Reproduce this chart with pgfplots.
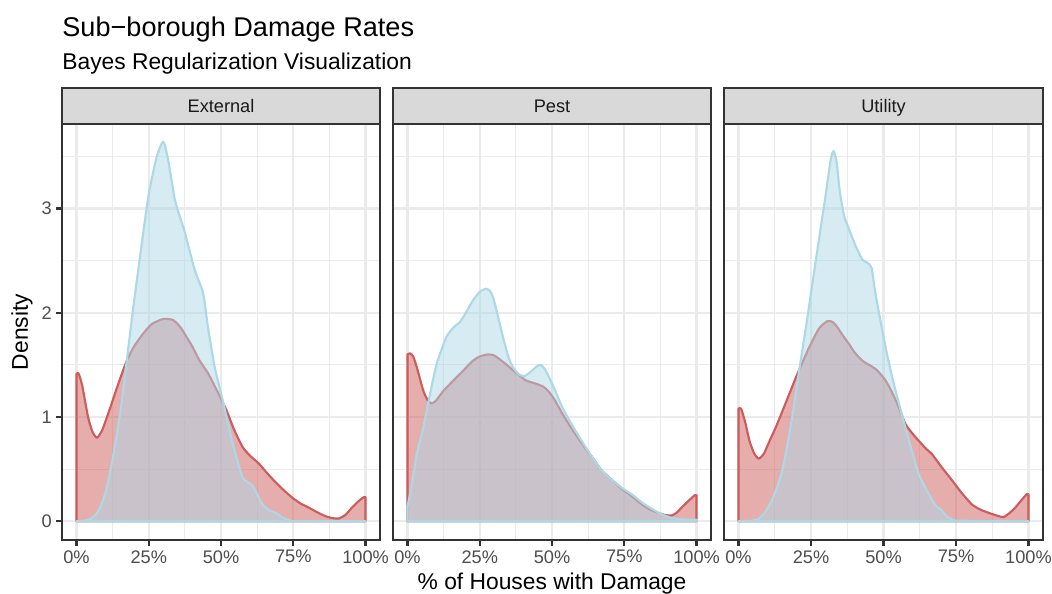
\documentclass[border=0pt]{standalone}
\usepackage{pgfplots}
\pgfplotsset{compat=1.18}
\usepackage{fontspec}
\setmainfont{Liberation Sans}
\definecolor{rawred}{RGB}{205,92,92}
\definecolor{bayesblue}{RGB}{173,216,230}
\definecolor{gridgray}{RGB}{235,235,235}
\definecolor{gray20}{RGB}{51,51,51}
\definecolor{gray30}{RGB}{77,77,77}
\definecolor{gray10}{RGB}{26,26,26}
\definecolor{stripgray}{RGB}{217,217,217}

\pgfplotstableread{
x y
0 1.41
0.7 1.42
2 1.30
4 1.00
5.5 0.86
7.1 0.80
9 0.88
11.7 1.09
14.5 1.32
17.4 1.54
20 1.68
23.1 1.80
26 1.89
30 1.94
33.4 1.93
36 1.86
38 1.77
40 1.68
42.6 1.54
45.5 1.42
48.3 1.27
51.8 1.07
54.5 0.88
57.5 0.71
60 0.63
63.2 0.55
66 0.46
69 0.37
72 0.29
74.7 0.225
77.5 0.17
80.4 0.13
83 0.09
86 0.05
88.5 0.03
90.7 0.026
93 0.06
95.3 0.13
97.5 0.19
99.3 0.23
100 0.23
}\extraw

\pgfplotstableread{
x y
0 0
3 0.005
4.8 0.02
6.5 0.06
8.2 0.13
10.5 0.32
12.8 0.64
15.1 1.03
17.4 1.54
19.7 2.06
22 2.54
24.9 3.12
27.7 3.49
30 3.64
31.7 3.47
34 3.09
36 2.90
37.5 2.77
40.9 2.41
43.8 2.19
45.5 1.86
47.8 1.48
50.6 1.16
54.1 0.74
57.5 0.42
60.9 0.34
64.4 0.16
67 0.10
69 0.08
71 0.04
73.5 0.01
76 0
100 0
}\extbayes

\pgfplotstableread{
x y
0 1.60
0.9 1.61
2 1.58
3.2 1.48
5.5 1.25
7 1.16
8.4 1.13
10 1.16
12.4 1.25
17 1.38
22.7 1.54
25 1.58
27.8 1.60
30 1.59
33 1.53
36 1.46
38.7 1.40
41 1.35
44.4 1.32
47 1.29
49 1.24
51 1.16
53.6 1.03
57 0.88
60.5 0.74
64 0.61
67.4 0.48
71 0.39
74.2 0.31
78 0.23
81.1 0.16
84 0.11
86.8 0.08
89 0.06
91.4 0.055
93 0.08
94.8 0.13
97 0.19
99.4 0.25
100 0.25
}\pestraw

\pgfplotstableread{
x y
0 0.14
1.5 0.35
3.2 0.64
5.5 0.90
7.8 1.22
10.1 1.51
13.5 1.77
16 1.86
18.1 1.91
20 1.99
22.7 2.12
25 2.20
27.1 2.23
28.5 2.21
29.6 2.15
31 2.00
33 1.77
35 1.57
36.4 1.48
38.5 1.41
40.4 1.39
42 1.42
43.3 1.45
45 1.49
46.2 1.50
47.5 1.46
49 1.38
51 1.26
53.6 1.09
57 0.92
60.5 0.76
64 0.61
67.4 0.48
71 0.39
74.2 0.32
78 0.25
81.1 0.18
84.5 0.12
88 0.065
91 0.035
93.7 0.02
97 0.015
100 0.015
}\pestbayes

\pgfplotstableread{
x y
0 1.08
0.9 1.08
2.3 0.95
3.8 0.77
5.4 0.65
7 0.60
8.8 0.65
10.7 0.77
13 0.91
15.2 1.06
17.5 1.22
19.8 1.38
22 1.52
24.4 1.67
27.8 1.85
30.7 1.92
32.5 1.91
34.1 1.86
36 1.78
38.1 1.70
40 1.62
42.7 1.54
45 1.50
47.3 1.46
49 1.41
50.7 1.35
52.5 1.26
54.2 1.16
56 1.04
57.6 0.93
60 0.84
62.2 0.77
64.5 0.70
66.8 0.64
70 0.52
73.7 0.39
77 0.27
80.5 0.16
83.5 0.11
86.3 0.08
89 0.055
91.4 0.04
93.5 0.08
95.4 0.13
97.5 0.20
99.4 0.26
100 0.26
}\utilraw

\pgfplotstableread{
x y
0 0
3 0.002
5 0.006
6.8 0.02
8.4 0.06
10 0.12
11.8 0.22
13.5 0.34
15.2 0.50
17 0.75
18.7 1.03
20 1.28
22 1.64
24 2.00
26 2.38
28 2.75
30 3.12
31.8 3.47
32.8 3.55
33.8 3.45
35 3.15
36.4 2.93
38.1 2.80
40.4 2.64
42.7 2.51
44.4 2.48
45.9 2.43
47 2.22
48.5 1.99
50.7 1.67
53 1.38
55.3 1.13
58.8 0.77
62.2 0.45
65.6 0.26
68 0.15
70.2 0.10
72 0.04
73.7 0.016
76 0.005
100 0
}\utilbayes

\pgfplotsset{
  facet/.style={
    scale only axis,
    width=159pt, height=208pt,
    anchor=south west,
    xmin=-5, xmax=105, ymin=-0.18, ymax=3.81,
    xtick={0,25,50,75,100},
    xticklabels={0\%,25\%,50\%,75\%,100\%},
    ytick={0,1,2,3},
    minor xtick={12.5,37.5,62.5,87.5},
    minor ytick={0.5,1.5,2.5,3.5},
    grid=both,
    major grid style={draw=gridgray, line width=1.07pt},
    minor grid style={draw=gridgray, line width=0.53pt},
    axis line style={draw=gray20, line width=1.07pt},
    tick align=outside,
    xtick pos=bottom, ytick pos=left,
    major tick length=2.75pt,
    minor tick length=0pt,
    tick style={draw=gray20, line width=1.07pt},
    /pgf/number format/assume math mode=true,
    tick label style={font=\fontsize{9.1}{10}\selectfont, text=gray30},
    xticklabel style={inner sep=0pt, yshift=-2.2pt},
    yticklabel style={inner sep=0pt, xshift=-2.2pt},
  },
  raw/.style={draw=rawred, fill=rawred, fill opacity=0.5, draw opacity=1, line width=1.07pt, line join=round, smooth, tension=0.35},
  bayes/.style={draw=bayesblue, fill=bayesblue, fill opacity=0.5, draw opacity=1, line width=1.07pt, line join=round, smooth, tension=0.35},
}

\begin{document}
\begin{tikzpicture}[x=1pt,y=1pt]
\useasboundingbox (0,0) rectangle (526,296.5);

\begin{axis}[facet, at={(31pt,26.5pt)}]
\addplot[raw] table[x=x,y=y]{\extraw} \closedcycle;
\addplot[bayes] table[x=x,y=y]{\extbayes} \closedcycle;
\end{axis}

\begin{axis}[facet, at={(196.5pt,26.5pt)}, yticklabels={}, ytick style={draw=none}]
\addplot[raw] table[x=x,y=y]{\pestraw} \closedcycle;
\addplot[bayes] table[x=x,y=y]{\pestbayes} \closedcycle;
\end{axis}

\begin{axis}[facet, at={(362pt,26.5pt)}, width=159.5pt, yticklabels={}, ytick style={draw=none}]
\addplot[raw] table[x=x,y=y]{\utilraw} \closedcycle;
\addplot[bayes] table[x=x,y=y]{\utilbayes} \closedcycle;
\end{axis}

% strips
\foreach \a/\b/\lab in {31/190/External, 196.5/355.5/Pest, 362/521.5/Utility}{
  \draw[fill=stripgray, draw=gray20, line width=1.07pt] (\a,234.5) rectangle (\b,252.5);
  \node[text=gray10, font=\fontsize{9.1}{10}\selectfont, inner sep=0pt, anchor=base] at ({(\a+\b)/2},240.3) {\lab};
}

% titles
\node[anchor=base west, inner sep=0pt, font=\fontsize{13.55}{15}\selectfont] at (31,278.2) {Sub\textminus borough Damage Rates};
\node[anchor=base west, inner sep=0pt, font=\fontsize{11.4}{13}\selectfont] at (31,261.5) {Bayes Regularization Visualization};

% axis titles
\node[anchor=base, inner sep=0pt, font=\fontsize{11.4}{13}\selectfont] at (276,1.8) {\% of Houses with Damage};
\node[rotate=90, inner sep=0pt, font=\fontsize{11.4}{13}\selectfont] at (11,130.5) {Density};
\end{tikzpicture}
\end{document}
